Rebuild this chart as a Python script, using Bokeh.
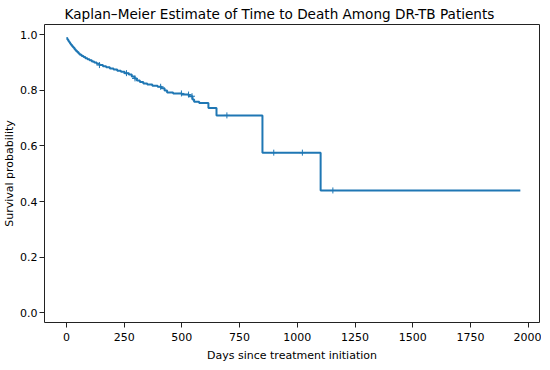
import numpy as np
from bokeh.plotting import figure
from bokeh.models import Range1d, FixedTicker, PrintfTickFormatter
from bokeh.embed import file_html
from bokeh.resources import INLINE

# Kaplan-Meier step data (days, survival probability)
km_time = [0, 4, 8, 12, 16, 20, 25, 30, 35, 40, 46, 52, 58, 66, 74, 82, 91, 100,
           110, 120, 131, 143, 158, 172, 188, 204, 220, 236, 252, 270, 283, 295,
           305, 318, 333, 350, 372, 395, 412, 425, 436, 462, 500, 530, 546, 553,
           575, 615, 650, 849, 1101, 1966]
km_surv = [0.988, 0.983, 0.978, 0.973, 0.968, 0.963, 0.958, 0.953, 0.948, 0.943,
           0.938, 0.933, 0.928, 0.924, 0.920, 0.916, 0.912, 0.908, 0.904, 0.900,
           0.896, 0.891, 0.887, 0.883, 0.879, 0.875, 0.871, 0.867, 0.862, 0.857,
           0.850, 0.843, 0.836, 0.830, 0.825, 0.821, 0.817, 0.813, 0.808, 0.800,
           0.792, 0.789, 0.785, 0.779, 0.767, 0.759, 0.755, 0.737, 0.710, 0.576,
           0.440, 0.440]
# censoring times (days)
censor_time = [143, 260, 297, 408, 498, 529, 544, 695, 898, 1022, 1154]

x_ticks = [0, 250, 500, 750, 1000, 1250, 1500, 1750, 2000]
y_ticks = [0.0, 0.2, 0.4, 0.6, 0.8, 1.0]

BLUE = "#1f77b4"
FONT = "DejaVu Sans"

p = figure(frame_width=495, frame_height=298, output_backend="svg",
           toolbar_location=None,
           title="Kaplan\u2013Meier Estimate of Time to Death Among DR-TB Patients",
           x_range=Range1d(-95, 2049), y_range=Range1d(-0.035, 1.037),
           min_border_left=0, min_border_right=2, min_border_top=0,
           min_border_bottom=0)

p.step(km_time, km_surv, mode="after", line_color=BLUE, line_width=2)

idx = np.searchsorted(np.array(km_time), np.array(censor_time), side="right") - 1
censor_surv = [km_surv[i] for i in idx]
p.scatter(censor_time, censor_surv, marker="cross", size=6, line_color=BLUE,
          line_width=1)

p.title.text_font = FONT
p.title.text_font_size = "13.6px"
p.title.text_font_style = "normal"
p.title.align = "left"
p.title.offset = 20
p.title.text_color = "#000000"
p.title.standoff = 6

p.xgrid.visible = False
p.ygrid.visible = False
p.outline_line_color = "#222222"
p.outline_line_width = 1

for ax in (p.xaxis[0], p.yaxis[0]):
    ax.axis_line_color = None
    ax.major_tick_in = 0
    ax.major_tick_out = 5
    ax.minor_tick_line_color = None
    ax.major_tick_line_color = "#222222"
    ax.major_label_text_font = FONT
    ax.major_label_text_font_size = "11px"
    ax.major_label_text_color = "#000000"
    ax.axis_label_text_font = FONT
    ax.axis_label_text_font_size = "11px"
    ax.axis_label_text_font_style = "normal"
    ax.axis_label_text_color = "#000000"

p.xaxis.major_label_standoff = 5
p.xaxis.axis_label_standoff = 5
p.yaxis.major_label_standoff = 2
p.yaxis.axis_label_standoff = 1

p.xaxis.ticker = FixedTicker(ticks=x_ticks)
p.yaxis.ticker = FixedTicker(ticks=y_ticks)
p.yaxis.formatter = PrintfTickFormatter(format="%.1f")
p.xaxis.axis_label = "Days since treatment initiation"
p.yaxis.axis_label = "Survival probability"

open("out.html", "w").write(file_html(p, INLINE))
